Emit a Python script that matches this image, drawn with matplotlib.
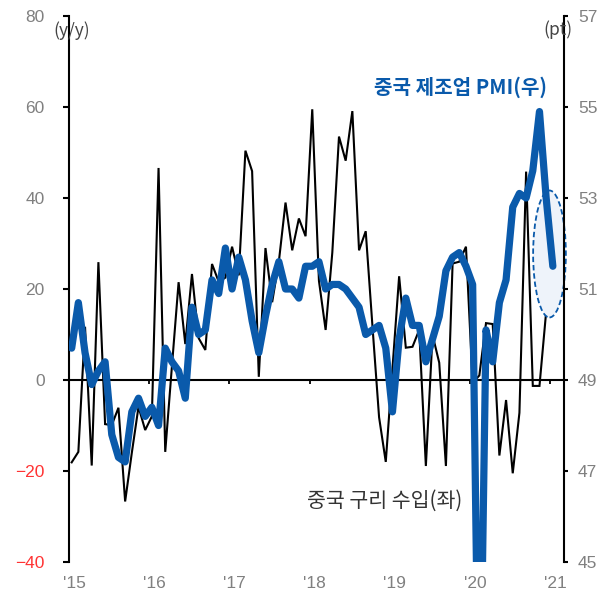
import matplotlib
matplotlib.use("Agg")
import matplotlib.pyplot as plt
from matplotlib.patches import Ellipse
import numpy as np

# ---- data ----
months = list(range(73))  # Jan 2015 .. Jan 2021 (monthly index)

copper_imports_yoy = [
    -18.1, -15.8, 11.7, -18.8, 25.9, -9.7, -9.9, -6.1, -26.7, -16.0, -5.9, -11.0,   # 2015
    -8.0, 46.6, -15.8, 3.0, 21.5, 7.9, 23.3, 9.2, 6.6, 25.5, 21.6, 22.5,            # 2016
    29.3, 23.0, 50.4, 45.9, 0.7, 29.0, 17.1, 26.0, 39.0, 28.5, 35.5, 31.6,          # 2017
    59.5, 21.8, 11.0, 28.0, 53.5, 48.2, 59.1, 28.5, 32.7, 12.0, -8.2, -18.0,        # 2018
    2.5, 22.8, 7.1, 7.3, 11.0, -18.9, 9.9, 3.8, -18.9, 25.6, 26.0, 29.3,            # 2019
    -0.6, 1.0, 12.5, 12.3, -16.6, -4.4, -20.5, -7.2, 45.8, -1.3, -1.3, 15.0,        # 2020
]

china_mfg_pmi = [
    49.7, 50.7, 49.6, 48.9, 49.2, 49.4, 47.8, 47.3, 47.2, 48.3, 48.6, 48.2,   # 2015
    48.4, 48.0, 49.7, 49.4, 49.2, 48.6, 50.6, 50.0, 50.1, 51.2, 50.9, 51.9,   # 2016
    51.0, 51.7, 51.2, 50.3, 49.6, 50.4, 51.1, 51.6, 51.0, 51.0, 50.8, 51.5,   # 2017
    51.5, 51.6, 51.0, 51.1, 51.1, 51.0, 50.8, 50.6, 50.0, 50.1, 50.2, 49.7,   # 2018
    48.3, 49.9, 50.8, 50.2, 50.2, 49.4, 49.9, 50.4, 51.4, 51.7, 51.8, 51.5,   # 2019
    51.1, 40.3, 50.1, 49.4, 50.7, 51.2, 52.8, 53.1, 53.0, 53.6, 54.9, 53.0,   # 2020
    51.5,                                                                      # 2021
]

year_labels = ["'15", "'16", "'17", "'18", "'19", "'20", "'21"]
left_ticks = [-40, -20, 0, 20, 40, 60, 80]
right_ticks = [45, 47, 49, 51, 53, 55, 57]

BLUE = "#0a5aab"
GRAY = "#808080"
W, H = 610, 592

fig = plt.figure(figsize=(W / 100, H / 100), dpi=100)
ax = fig.add_axes([69 / W, 1 - 562 / H, (564 - 69) / W, (562 - 16) / H])
ax.patch.set_alpha(0)

x_copper = months[:len(copper_imports_yoy)]
ax.plot(x_copper, copper_imports_yoy, color="black", lw=1.5, zorder=2,
        solid_joinstyle="miter")

# highlight ellipse
ell = Ellipse((71.5, 27.7), width=4.9, height=27.9, facecolor="#eef3fa",
              edgecolor=BLUE, lw=1.3, ls=(0, (3, 1.6)), zorder=3, clip_on=False)
ax.add_patch(ell)

ax.set_xlim(-0.21, 73.67)
ax.set_ylim(-40, 80)

# spines
for s in ["top", "right"]:
    ax.spines[s].set_visible(False)
ax.spines["left"].set_linewidth(1.5)
ax.spines["bottom"].set_position(("data", 0))
ax.spines["bottom"].set_linewidth(1.5)

tick_pos = [12 * k - 0.4 for k in range(7)]
ax.set_xticks(tick_pos)
ax.set_xticklabels([])
ax.tick_params(axis="x", direction="out", length=3, width=1.3, color="black")

ax.set_yticks(left_ticks)
ylabels = [("\u2212" + str(abs(v))) if v < 0 else str(v) for v in left_ticks]
ax.set_yticklabels(ylabels, fontsize=12.5, family="Liberation Sans")
for lab, v in zip(ax.get_yticklabels(), left_ticks):
    lab.set_color("#ff3333" if v < 0 else GRAY)
ax.tick_params(axis="y", direction="out", length=4.5, width=1.5, pad=13)

# year labels along the bottom
sec = ax.secondary_xaxis("bottom")
sec.set_xticks([p + 0.75 for p in tick_pos])
sec.set_xticklabels(year_labels, fontsize=12.5, color=GRAY, family="Liberation Sans")
sec.tick_params(length=0, pad=10)
sec.spines["bottom"].set_visible(False)

# right axis
ax2 = ax.twinx()
ax2.plot(months[:len(china_mfg_pmi)], china_mfg_pmi, color=BLUE, lw=5.2,
         solid_joinstyle="round", solid_capstyle="round", zorder=4)
ax2.set_ylim(45, 57)
ax2.set_yticks(right_ticks)
ax2.set_yticklabels([str(v) for v in right_ticks], fontsize=12.5,
                    color=GRAY, family="Liberation Sans")
ax2.tick_params(axis="y", direction="out", length=3, width=1.5, pad=7)
for s in ["top", "left", "bottom"]:
    ax2.spines[s].set_visible(False)
ax2.spines["right"].set_linewidth(1.5)

# unit labels
kfont = ["Noto Sans CJK KR", "DejaVu Sans"]
fig.text(72 / W, 1 - 31 / H, "(y/y)", ha="center", va="center", fontsize=12.5,
         color="#444444", family=kfont)
fig.text(558 / W, 1 - 30 / H, "(pt)", ha="center", va="center", fontsize=12.5,
         color="#444444", family=kfont)

# series labels
fig.text(547 / W, 1 - 87 / H, "중국 제조업 PMI(우)", ha="right", va="center",
         fontsize=14.5, fontweight="bold", color=BLUE, family=kfont)
fig.text(307 / W, 1 - 501 / H, "중국 구리 수입(좌)", ha="left", va="center",
         fontsize=14.8, color="#333333", family=kfont)

fig.savefig("out.png", dpi=100)
